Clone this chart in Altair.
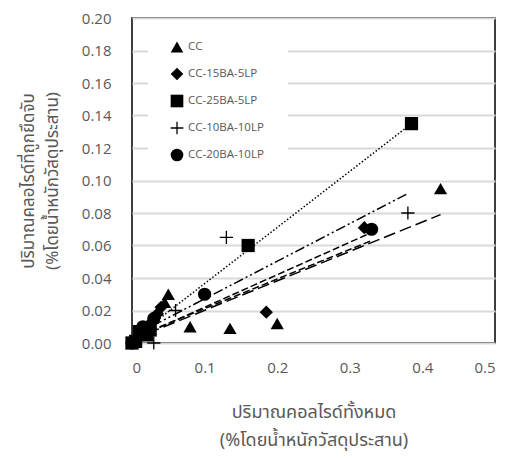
import altair as alt
import pandas as pd

# Series names (legend order)
series = ["CC", "CC-15BA-5LP", "CC-25BA-5LP", "CC-10BA-10LP", "CC-20BA-10LP"]

# Total chloride (x) and bound chloride (y), % by weight of binder
cc_x = [0.0, 0.045, 0.05, 0.08, 0.135, 0.20, 0.425]
cc_y = [0.0, 0.025, 0.030, 0.010, 0.009, 0.012, 0.095]

ba15_x = [0.0, 0.01, 0.025, 0.035, 0.04, 0.185, 0.32]
ba15_y = [0.0, 0.005, 0.012, 0.018, 0.022, 0.019, 0.071]

ba25_x = [0.0, 0.005, 0.01, 0.02, 0.025, 0.16, 0.385]
ba25_y = [0.0, 0.001, 0.007, 0.005, 0.008, 0.060, 0.135]

lp10_x = [0.03, 0.06, 0.13, 0.38]
lp10_y = [0.0, 0.020, 0.065, 0.080]

lp20_x = [0.0, 0.015, 0.02, 0.03, 0.10, 0.33]
lp20_y = [0.0, 0.010, 0.007, 0.015, 0.030, 0.070]

# Linear trend lines: start and end points per series
trend_x0 = [0.0, 0.0, 0.0, 0.0, 0.0]
trend_y0 = [0.002, 0.002, 0.002, 0.004, 0.003]
trend_x1 = [0.425, 0.33, 0.385, 0.38, 0.33]
trend_y1 = [0.079, 0.068, 0.135, 0.092, 0.063]

x_ticks = [0, 0.1, 0.2, 0.3, 0.4, 0.5]
y_ticks = [0.0, 0.02, 0.04, 0.06, 0.08, 0.10, 0.12, 0.14, 0.16, 0.18, 0.20]

plus_path = "M-1,-0.1H1V0.1H-1Z M-0.1,-1H0.1V1H-0.1Z"
shapes = ["triangle-up", "diamond", "square", plus_path, "circle"]
dashes = [[12, 5], [7, 3], [1.5, 2], [10, 3, 2, 3, 2, 3], [7, 3]]

rows = []
for name, xs, ys in zip(series,
                        [cc_x, ba15_x, ba25_x, lp10_x, lp20_x],
                        [cc_y, ba15_y, ba25_y, lp10_y, lp20_y]):
    for a, b in zip(xs, ys):
        rows.append({"series": name, "total": a, "bound": b})
pts = pd.DataFrame(rows)

trows = []
for name, a0, b0, a1, b1 in zip(series, trend_x0, trend_y0, trend_x1, trend_y1):
    trows.append({"fit": name, "total": a0, "bound": b0, "o": 0})
    trows.append({"fit": name, "total": a1, "bound": b1, "o": 1})
trend = pd.DataFrame(trows)

legend_df = pd.DataFrame({"series": series})

thai = "Noto Sans Thai, Tahoma, Leelawadee UI, Noto Sans, sans-serif"
num_font = "Open Sans"
gray = "#595959"

x_enc = alt.X(
    "total:Q",
    scale=alt.Scale(domain=[0, 0.5], nice=False),
    axis=alt.Axis(
        values=x_ticks,
        labelExpr="datum.value == 0 ? '0' : format(datum.value, '.1f')",
        grid=False, domain=False, ticks=False, labelOverlap=False,
        labelPadding=17, labelFontSize=15, labelColor=gray, labelFont=num_font,
        title=["ปริมาณคอลไรด์ทั้งหมด", "(%โดยน้ำหนักวัสดุประสาน)"],
        titleFont=thai, titleFontSize=18, titleFontWeight="normal",
        titleColor=gray, titlePadding=28, titleLineHeight=28,
    ),
)
y_enc = alt.Y(
    "bound:Q",
    scale=alt.Scale(domain=[0, 0.2], nice=False),
    axis=alt.Axis(
        values=y_ticks, format=".2f",
        grid=True, gridColor="#d9d9d9", gridWidth=2,
        domain=False, ticks=False, labelOverlap=False,
        labelPadding=21, labelFontSize=15, labelColor=gray, labelFont=num_font,
        title=["ปริมาณคลอไรด์ที่ถูกยึดจับ", "(%โดยน้ำหนักวัสดุประสาน)"],
        titleFont=thai, titleFontSize=17, titleFontWeight="normal",
        titleColor=gray, titlePadding=20, titleLineHeight=24,
    ),
)

shape_enc = alt.Shape(
    "series:N", scale=alt.Scale(domain=series, range=shapes), legend=None
)

points = alt.Chart(pts).mark_point(
    filled=True, color="black", opacity=1, size=175
).encode(x=x_enc, y=y_enc, shape=shape_enc)

lines = alt.Chart(trend).mark_line(color="black", strokeWidth=1.5).encode(
    x=x_enc,
    y=y_enc,
    detail="fit:N",
    order="o:Q",
    strokeDash=alt.StrokeDash(
        "fit:N", scale=alt.Scale(domain=series, range=dashes), legend=None
    ),
)

main = alt.layer(lines, points)

# Legend panel in the upper-left corner of the plot
leg_y = alt.Y(
    "series:N",
    scale=alt.Scale(domain=series, range=[29, 137], padding=0),
    axis=None,
)
box = alt.Chart(legend_df).mark_rect(fill="white").encode(
    x=alt.value(16), x2=alt.value(156), y=alt.value(12), y2=alt.value(157)
)
sym = alt.Chart(legend_df).mark_point(
    filled=True, color="black", opacity=1, size=160
).encode(x=alt.value(45), y=leg_y, shape=shape_enc)
txt = alt.Chart(legend_df).mark_text(
    align="left", baseline="middle", fontSize=11.5, color=gray, font=num_font
).encode(x=alt.value(56), y=leg_y, text="series:N")

legend = alt.layer(box, sym, txt)

chart = (
    alt.layer(main, legend)
    .resolve_scale(y="independent")
    .properties(
        width=363, height=325,
        padding={"left": 132, "top": 18, "right": 18, "bottom": 116},
        autosize=alt.AutoSizeParams(type="none"),
        background="white",
    )
    .configure_view(stroke="black", strokeWidth=1.5)
)

chart.save("out.html", embed_options={"renderer": "svg", "actions": False})
